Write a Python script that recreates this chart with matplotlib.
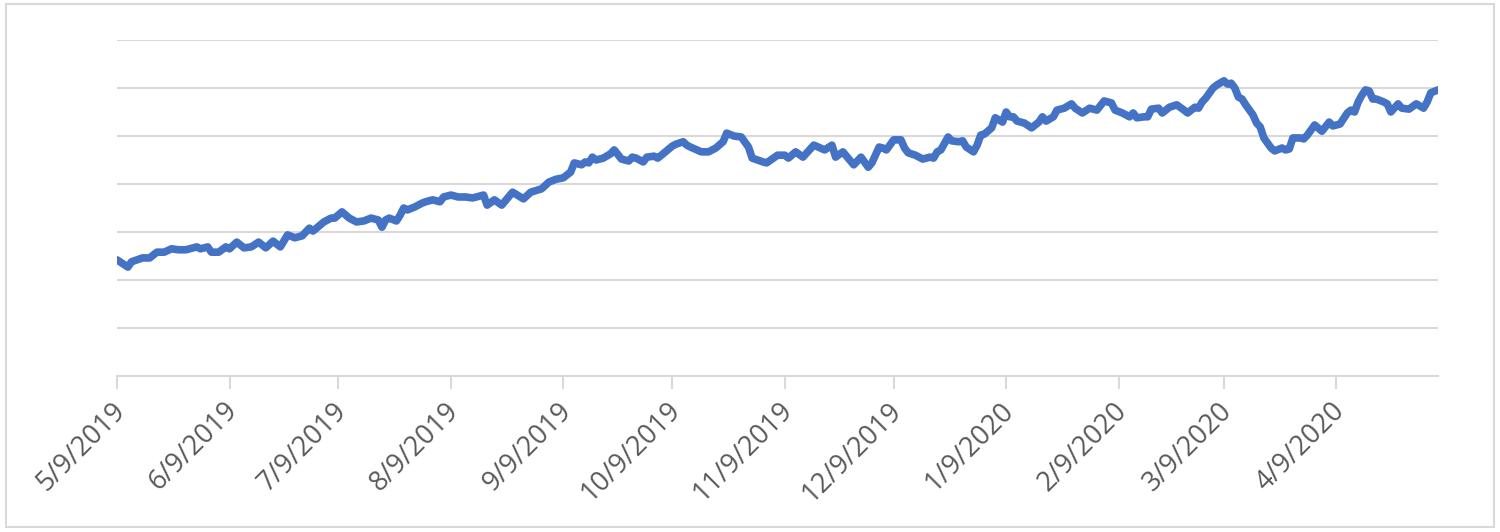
import numpy as np
import matplotlib
matplotlib.use("Agg")
import matplotlib.pyplot as plt
from matplotlib.patches import Rectangle
from matplotlib.transforms import ScaledTranslation

start = np.datetime64("2019-05-09")

# days since 5/9/2019, and the series value
days = [0, 3, 4, 7, 9, 11, 13, 15, 17, 19, 22, 23, 25, 26, 28, 30, 31, 33, 35, 37,
        39, 41, 43, 45, 47, 49, 51, 53, 54, 57, 59, 60, 62, 64, 66, 68, 70, 72, 73,
        74, 75, 77, 78, 79, 80, 82, 84, 85, 87, 89, 90, 92, 94, 96, 98, 99, 101,
        102, 104, 106, 109, 112, 114, 117, 119, 121, 123, 124, 125, 126, 128, 129,
        130, 131, 132, 134, 136, 137, 139, 141, 142, 143, 145, 146, 148, 149, 150,
        153, 154, 156, 157, 158, 161, 163, 165, 167, 168, 170, 172, 174, 175, 178,
        179, 182, 184, 185, 187, 189, 192, 195, 197, 198, 200, 203, 205, 207, 208,
        210, 211, 212, 214, 216, 217, 218, 220, 222, 224, 225, 226, 227, 229, 230,
        232, 233, 234, 236, 237, 238, 239, 241, 242, 244, 245, 246, 247, 248, 250,
        252, 254, 255, 256, 258, 259, 261, 263, 264, 266, 268, 270, 272, 274, 275,
        277, 279, 280, 281, 283, 284, 285, 287, 288, 290, 292, 294, 295, 297, 298,
        299, 300, 302, 303, 305, 306, 307, 308, 309, 310, 311, 313, 314, 315, 316,
        318, 319, 321, 322, 323, 324, 326, 327, 328, 330, 332, 334, 335, 337, 339,
        340, 341, 342, 343, 344, 345, 346, 347, 349, 350, 351, 353, 354, 356, 358,
        360, 361, 362, 364]
values = [24.2, 22.7, 23.8, 24.6, 24.6, 25.8, 25.8, 26.5, 26.3, 26.3, 26.9, 26.5,
          26.9, 25.8, 25.8, 26.9, 26.5, 27.9, 26.7, 26.9, 27.9, 26.7, 28.1, 26.9,
          29.4, 28.8, 29.2, 30.8, 30.2, 32.1, 32.9, 32.9, 34.2, 32.9, 32.1, 32.3,
          32.9, 32.5, 31.0, 32.5, 32.9, 32.3, 33.5, 35.0, 34.6, 35.2, 36.0, 36.3,
          36.7, 36.3, 37.3, 37.7, 37.3, 37.3, 37.1, 37.3, 37.7, 35.6, 36.7, 35.6,
          38.3, 36.9, 38.3, 39.0, 40.4, 41.0, 41.3, 41.9, 42.5, 44.4, 44.0, 44.6,
          44.4, 45.6, 45.0, 45.4, 46.3, 47.1, 45.2, 44.8, 45.6, 45.4, 44.6, 45.6,
          45.8, 45.4, 46.0, 47.9, 48.3, 48.8, 48.1, 47.7, 46.7, 46.7, 47.5, 48.8,
          50.6, 50.0, 49.8, 47.7, 45.4, 44.6, 44.4, 46.0, 46.0, 45.4, 46.7, 45.6,
          48.1, 47.1, 48.1, 45.6, 46.7, 44.0, 45.6, 43.5, 44.4, 47.7, 47.5, 47.1,
          49.2, 49.2, 47.5, 46.5, 46.0, 45.2, 45.6, 45.4, 46.7, 47.1, 49.8, 49.0,
          48.8, 49.0, 47.7, 46.7, 48.1, 50.2, 50.4, 51.7, 53.8, 52.9, 55.0, 54.0,
          54.0, 53.1, 52.7, 51.7, 52.9, 54.0, 53.1, 54.0, 55.4, 55.8, 56.7, 55.8,
          54.8, 55.8, 55.4, 57.3, 56.9, 55.4, 54.8, 54.0, 54.8, 53.8, 54.0, 54.0,
          55.6, 55.8, 54.8, 56.0, 56.5, 55.4, 54.8, 56.0, 55.8, 57.1, 57.9, 60.0,
          60.6, 61.5, 60.8, 61.0, 60.0, 58.1, 57.7, 56.5, 54.4, 52.7, 51.9, 49.6,
          47.5, 46.9, 47.5, 47.1, 47.3, 49.6, 49.6, 49.4, 50.2, 52.3, 51.0, 52.9,
          52.1, 52.5, 54.8, 55.4, 55.0, 57.1, 58.5, 59.6, 59.4, 57.7, 57.7, 57.1,
          56.7, 55.0, 56.7, 55.8, 55.6, 56.7, 55.8, 57.1, 59.0, 59.6]

tick_labels = ["5/9/2019", "6/9/2019", "7/9/2019", "8/9/2019", "9/9/2019",
               "10/9/2019", "11/9/2019", "12/9/2019", "1/9/2020", "2/9/2020",
               "3/9/2020", "4/9/2020"]
tick_dates = ["2019-05-09", "2019-06-09", "2019-07-09", "2019-08-09", "2019-09-09",
              "2019-10-09", "2019-11-09", "2019-12-09", "2020-01-09", "2020-02-09",
              "2020-03-09", "2020-04-09"]

dates = start + np.array(days).astype("timedelta64[D]")

grid_col = "#d9d9d9"
fig = plt.figure(figsize=(15, 5.32), dpi=100)
ax = fig.add_axes([0.078, 0.2932, 0.8807, 0.6316])

ax.plot(dates, values, color="#4472C4", lw=5.5, solid_joinstyle="round",
        solid_capstyle="round")

ax.set_xlim(dates[0], dates[-1])
ax.set_ylim(0, 70)
ax.set_yticks(np.arange(0, 71, 10))
ax.yaxis.grid(True, color=grid_col, lw=1.5)
ax.tick_params(axis="y", left=False, labelleft=False)
ax.set_axisbelow(True)

ax.set_xticks(np.array(tick_dates, dtype="datetime64[D]"))
ax.set_xticklabels(tick_labels, rotation=45, ha="right", va="center",
                   rotation_mode="anchor", fontsize=19.5, color="#595959",
                   family="Open Sans")
ax.tick_params(axis="x", direction="out", length=9, width=1.5, color=grid_col,
               pad=13)
shift = ScaledTranslation(4 / 100, 0, fig.dpi_scale_trans)
for lab in ax.get_xticklabels():
    lab.set_transform(lab.get_transform() + shift)

for side in ["left", "right", "top"]:
    ax.spines[side].set_visible(False)
ax.spines["bottom"].set_color(grid_col)
ax.spines["bottom"].set_linewidth(1.5)

fig.patches.append(Rectangle((0.004, 0.009), 0.992, 0.983, transform=fig.transFigure,
                             fill=False, edgecolor=grid_col, lw=1.5))

fig.savefig("out.png", dpi=100)
